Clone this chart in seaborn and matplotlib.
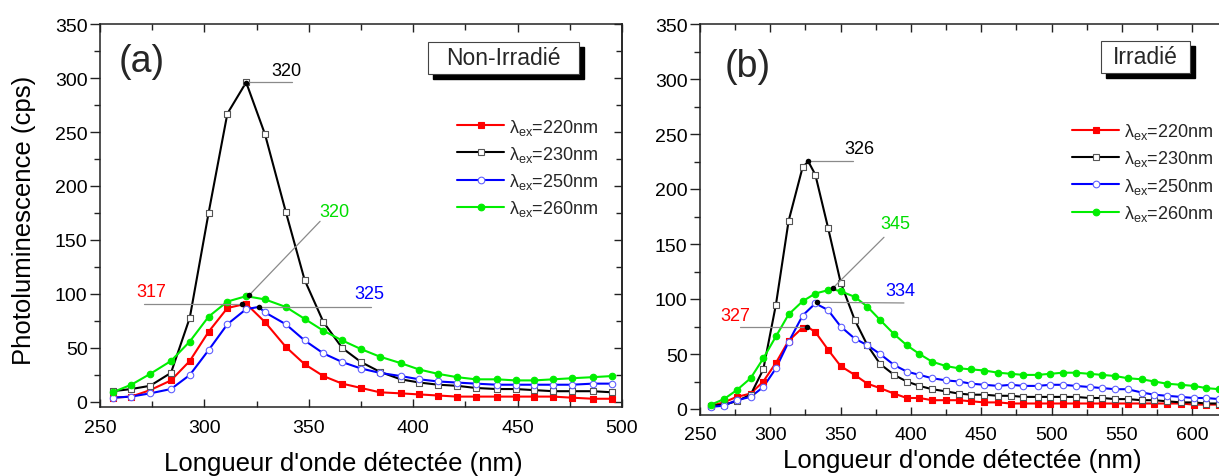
import matplotlib
matplotlib.use("Agg")
import matplotlib.pyplot as plt
from matplotlib.patches import Rectangle
from matplotlib.lines import Line2D
from matplotlib.ticker import MultipleLocator
import pandas as pd
import seaborn as sns

# ---------------- data : panel (a) Non-Irradié ----------------
wl_a = [256, 265, 274, 284, 293, 302, 311, 320, 329, 339, 348, 357, 366, 375,
        384, 394, 403, 412, 421, 430, 440, 449, 458, 467, 476, 486, 495]
a_220 = [4, 5, 11, 20, 38, 65, 87, 91, 74, 51, 35, 24, 17, 13, 9, 8, 7, 6, 5, 5,
         5, 5, 5, 5, 4, 3, 3]
a_230 = [10, 12, 15, 27, 78, 175, 267, 296, 248, 176, 113, 74, 50, 37, 28, 21, 18,
         16, 15, 13, 12, 12, 11, 10, 10, 10, 9]
a_250 = [4, 5, 8, 12, 25, 48, 72, 86, 83, 72, 57, 45, 37, 31, 27, 24, 21, 19, 18,
         17, 16, 16, 16, 16, 16, 17, 17]
a_260 = [9, 16, 26, 38, 56, 79, 93, 98, 95, 88, 77, 66, 57, 49, 42, 36, 30, 26, 23,
         21, 21, 20, 20, 21, 22, 23, 24]
# extra (unmarked) points on the curves near the maxima
a_extra = {"220": ([], []), "230": ([], []), "250": ([326], [88]), "260": ([], [])}
# peak markers and labels (a)
a_peak_x = [318, 320, 326, 321.5]
a_peak_y = [90.5, 295.5, 87.7, 99]
a_peak_txt = ["317", "320", "325", "320"]
a_txt_x = [274.7, 339.4, 379, 362.5]
a_txt_y = [102.5, 306.8, 100, 176.2]
a_lead_x = [[271, 318], [320, 342], [326, 380], [321.5, 355.4]]
a_lead_y = [[90.5, 90.5], [296, 296], [87.7, 87.7], [99, 167.3]]

# ---------------- data : panel (b) Irradié ----------------
wl_b = [258, 267, 276, 286, 295, 304, 313, 323, 332, 341, 350, 360, 369, 378, 388,
        397, 406, 415, 425, 434, 443, 452, 462, 471, 480, 490, 499, 508, 517, 527,
        536, 545, 554, 564, 573, 582, 592, 601, 610, 619]
b_220 = [3, 6, 11, 14, 25, 42, 62, 74, 70, 54, 39, 31, 23, 19, 14, 10, 10, 8, 8, 8,
         7, 6, 6, 5, 5, 5, 5, 5, 5, 5, 5, 5, 5, 5, 5, 5, 5, 4, 4, 4]
b_230 = [3, 4, 7, 13, 36, 95, 171, 220, 213, 165, 115, 81, 58, 41, 31, 25, 21, 18,
         16, 14, 13, 13, 12, 12, 11, 11, 11, 11, 11, 10, 10, 9, 9, 8, 8, 7, 6, 6, 5, 5]
b_250 = [2, 3, 8, 11, 20, 37, 61, 85, 96, 90, 75, 64, 58, 50, 40, 34, 31, 28, 26, 25,
         23, 22, 21, 22, 21, 21, 22, 22, 21, 20, 19, 18, 18, 15, 13, 12, 11, 10, 10, 9]
b_260 = [4, 9, 17, 28, 46, 66, 86, 98, 105, 108, 107, 102, 93, 81, 68, 58, 50, 43,
         39, 37, 36, 35, 33, 32, 31, 31, 32, 33, 33, 32, 31, 30, 28, 27, 25, 23, 22,
         21, 19, 18]
b_extra = {"220": ([326], [75]), "230": ([327], [225]), "250": ([], []),
           "260": ([344], [109])}
b_peak_x = [326.3, 327, 333.4, 344.3]
b_peak_y = [74.2, 225.5, 97, 109.7]
b_peak_txt = ["327", "326", "334", "345"]
b_txt_x = [274.9, 363, 392.1, 388.6]
b_txt_y = [84.8, 236.4, 107.6, 169]
b_lead_x = [[278.4, 326.3], [327, 359], [333.4, 395], [344.3, 380.8]]
b_lead_y = [[74.2, 74.2], [225.5, 225.5], [97, 96.4], [109.7, 156.1]]

exc = ["220", "230", "250", "260"]
labels = [r"$\lambda_{ex}$=%snm" % e for e in exc]

# ---------------- styles ----------------
colors = {"220": "#ff0000", "230": "#000000", "250": "#0000ff", "260": "#00ee00"}
txt_colors = ["#ff0000", "#000000", "#0000ff", "#00dd00"]
mk = {"220": "s", "230": "s", "250": "o", "260": "o"}
mfc = {"220": "#ff0000", "230": "#ffffff", "250": "#ffffff", "260": "#00ee00"}
mec = {"220": "#ff0000", "230": "#555555", "250": "#6060ff", "260": "#00ee00"}

sns.set_theme(style="ticks")
plt.rcParams["font.family"] = ["Liberation Sans", "DejaVu Sans"]
plt.rcParams["mathtext.fontset"] = "custom"
plt.rcParams["mathtext.rm"] = "Liberation Sans"
plt.rcParams["mathtext.it"] = "Liberation Sans"
plt.rcParams["mathtext.default"] = "regular"

fig = plt.figure(figsize=(12.19, 4.77), dpi=100)
fig.patch.set_facecolor("white")

W, H = 1219.0, 477.0
ax_a = fig.add_axes([100 / W, 1 - 408.4 / H, 522 / W, 383.4 / H])
ax_b = fig.add_axes([700 / W, 1 - 415.5 / H, 519 / W, 390.5 / H])


def draw_panel(ax, wl, ys, extra, xlim, peak_x, peak_y, ptxt, tx, ty, lx, ly,
               tag, tag_pos, box_txt, box_rect, leg_anchor, show_right, ylab):
    for e, y in zip(exc, ys):
        ex_x, ex_y = extra[e]
        df = pd.DataFrame({"x": list(wl) + list(ex_x), "y": list(y) + list(ex_y)})
        df = df.sort_values("x")
        sns.lineplot(data=df, x="x", y="y", ax=ax, color=colors[e], lw=1.5,
                     estimator=None, sort=False, zorder=2)
        dm = pd.DataFrame({"x": wl, "y": y})
        sns.scatterplot(data=dm, x="x", y="y", ax=ax, marker=mk[e], s=22,
                        color=mfc[e], edgecolor=mec[e], linewidth=0.8, zorder=3,
                        legend=False)
    # leader lines, peak dots and labels
    for i in range(4):
        ax.plot(lx[i], ly[i], color="#8a8a8a", lw=0.9, zorder=4)
        ax.text(tx[i], ty[i], ptxt[i], color=txt_colors[i], fontsize=13,
                ha="center", va="center", zorder=6)
    sns.scatterplot(x=peak_x, y=peak_y, ax=ax, color="black", s=16,
                    edgecolor="black", linewidth=0, zorder=5, legend=False)

    ax.set_xlim(*xlim)
    ax.set_ylim(-5, 350)
    ax.xaxis.set_major_locator(MultipleLocator(50))
    ax.xaxis.set_minor_locator(MultipleLocator(25))
    ax.yaxis.set_major_locator(MultipleLocator(50))
    ax.yaxis.set_minor_locator(MultipleLocator(25))
    ax.tick_params(axis="x", which="both", direction="in", top=True, bottom=True,
                   colors="#222222", labelcolor="black")
    ax.tick_params(axis="x", which="major", length=6, width=1.0, pad=8,
                   labelsize=14)
    ax.tick_params(axis="x", which="minor", length=4, width=1.0)
    ax.tick_params(axis="y", which="both", direction="out", left=True, right=False,
                   colors="#222222", labelcolor="black")
    ax.tick_params(axis="y", which="major", length=7, width=1.0, pad=2,
                   labelsize=14)
    ax.tick_params(axis="y", which="minor", length=4, width=1.0)
    for s in ax.spines.values():
        s.set_linewidth(1.1)
        s.set_color("#222222")
    if show_right:
        sec = ax.secondary_yaxis("right")
        sec.yaxis.set_major_locator(MultipleLocator(50))
        sec.yaxis.set_minor_locator(MultipleLocator(25))
        sec.tick_params(which="both", direction="in", labelright=False,
                        colors="#222222")
        sec.tick_params(which="major", length=6, width=1.0)
        sec.tick_params(which="minor", length=4, width=1.0)
        sec.spines["right"].set_linewidth(1.1)
        sec.spines["right"].set_color("#222222")
    else:
        ax.spines["right"].set_visible(False)

    ax.set_xlabel("Longueur d'onde détectée (nm)", fontsize=18.5, color="black")
    if ylab:
        ax.set_ylabel("Photoluminescence (cps)", fontsize=18.5, color="black")
    else:
        ax.set_ylabel("")

    ax.text(tag_pos[0], tag_pos[1], tag, transform=ax.transAxes, fontsize=27,
            ha="center", va="center")
    # title box with shadow
    x0, y0, x1, y1 = box_rect
    dx = 5.0 / (ax.get_position().width * W)
    dy = 5.0 / (ax.get_position().height * H)
    ax.add_patch(Rectangle((x0 + dx, y0 - dy), x1 - x0, y1 - y0,
                           transform=ax.transAxes, facecolor="black",
                           edgecolor="black", zorder=7, clip_on=False))
    ax.add_patch(Rectangle((x0, y0), x1 - x0, y1 - y0, transform=ax.transAxes,
                           facecolor="white", edgecolor="#444444", lw=0.8,
                           zorder=8, clip_on=False))
    ax.text((x0 + x1) / 2, (y0 + y1) / 2, box_txt, transform=ax.transAxes,
            fontsize=16.5, ha="center", va="center", zorder=9)

    handles = [Line2D([], [], color=colors[e], lw=1.5, marker=mk[e], ms=4.8,
                      markerfacecolor=mfc[e], markeredgecolor=mec[e],
                      markeredgewidth=0.8) for e in exc]
    ax.legend(handles, labels, loc="center left", bbox_to_anchor=leg_anchor,
              frameon=False, fontsize=13, handlelength=2.6, handletextpad=0.25,
              labelspacing=0.4, borderpad=0, borderaxespad=0, numpoints=1)


draw_panel(ax_a, wl_a, [a_220, a_230, a_250, a_260], a_extra, (250, 500),
           a_peak_x, a_peak_y, a_peak_txt, a_txt_x, a_txt_y, a_lead_x, a_lead_y,
           "(a)", (0.080, 0.903), "Non-Irradié", (0.628, 0.870, 0.918, 0.953),
           (0.684, 0.626), True, True)
draw_panel(ax_b, wl_b, [b_220, b_230, b_250, b_260], b_extra, (250, 619),
           b_peak_x, b_peak_y, b_peak_txt, b_txt_x, b_txt_y, b_lead_x, b_lead_y,
           "(b)", (0.092, 0.892), "Irradié", (0.773, 0.875, 0.944, 0.956),
           (0.717, 0.621), False, False)

ax_a.xaxis.set_label_coords(0.466, -0.113)
ax_b.xaxis.set_label_coords(0.505, -0.085)
ax_a.yaxis.set_label_coords(-0.123, 0.491)

fig.savefig("out.png", dpi=100, facecolor="white")
